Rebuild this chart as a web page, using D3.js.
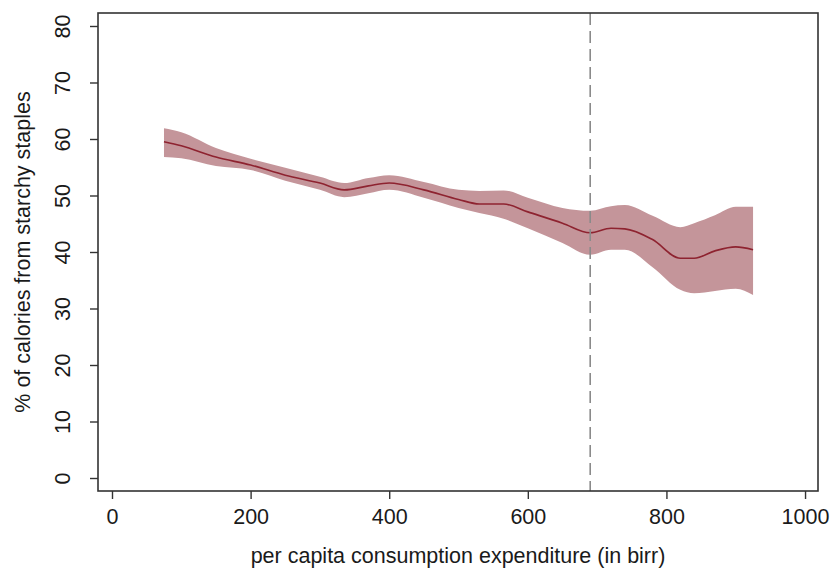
<!DOCTYPE html>
<html>
<head>
<meta charset="utf-8">
<script src="https://cdn.jsdelivr.net/npm/d3@7"></script>
<style>
  html, body { margin: 0; padding: 0; background: #fff; }
  svg { display: block; }
  text { font-family: "Liberation Sans", Arial, sans-serif; fill: #1a1a1a; }
</style>
</head>
<body>
<svg id="chart" width="831" height="577"></svg>
<script>
// Expenditure points (birr) at which the smoothed share is evaluated
const expenditure = [75, 100, 150, 200, 250, 300, 335, 370, 400, 450, 500, 530, 565, 600, 650, 690, 720, 740, 780, 820, 840, 870, 900, 925];
// Fitted % of calories from starchy staples
const fitted = [59.5, 58.8, 56.8, 55.4, 53.6, 52.2, 51.0, 51.7, 52.2, 51.0, 49.3, 48.5, 48.5, 47.1, 45.1, 43.4, 44.2, 44.1, 42.2, 38.9, 38.9, 40.2, 40.9, 40.4];
// Confidence band
const upper = [61.9, 61.2, 58.4, 56.5, 54.9, 53.3, 52.2, 53.1, 53.6, 52.4, 51.0, 50.8, 50.9, 49.6, 47.8, 47.3, 48.1, 48.3, 46.4, 44.4, 45.1, 46.5, 48.0, 48.0];
const lower = [56.8, 56.6, 55.2, 54.5, 52.6, 51.0, 49.7, 50.4, 51.0, 49.6, 47.8, 46.9, 45.9, 44.2, 41.6, 39.5, 40.4, 40.4, 37.3, 33.3, 32.7, 33.1, 33.5, 32.4];
// Axis ticks and reference line
const xTicks = [0, 200, 400, 600, 800, 1000];
const yTicks = [0, 10, 20, 30, 40, 50, 60, 70, 80];
const cutoff = 690;

const svg = d3.select("#chart");
const plot = { left: 98, right: 818, top: 13, bottom: 491 };

const x = d3.scaleLinear().domain([-20.2, 1018.7]).range([plot.left, plot.right]);
const y = d3.scaleLinear().domain([-2.3, 82.3]).range([plot.bottom, plot.top]);

const rows = expenditure.map((e, i) => ({ e, f: fitted[i], hi: upper[i], lo: lower[i] }));

// Confidence band
svg.append("path")
  .datum(rows)
  .attr("fill", "#c4959a")
  .attr("d", d3.area()
    .x(d => x(d.e))
    .y0(d => y(d.lo))
    .y1(d => y(d.hi))
    .curve(d3.curveMonotoneX));

// Fitted line
svg.append("path")
  .datum(rows)
  .attr("fill", "none")
  .attr("stroke", "#8e2330")
  .attr("stroke-width", 1.6)
  .attr("d", d3.line()
    .x(d => x(d.e))
    .y(d => y(d.f))
    .curve(d3.curveMonotoneX));

// Vertical dashed reference line
svg.append("line")
  .attr("x1", x(cutoff)).attr("x2", x(cutoff))
  .attr("y1", plot.top).attr("y2", plot.bottom)
  .attr("stroke", "#8a8a8a")
  .attr("stroke-width", 1.6)
  .attr("stroke-dasharray", "12,6");

// Plot frame
svg.append("rect")
  .attr("x", plot.left).attr("y", plot.top)
  .attr("width", plot.right - plot.left)
  .attr("height", plot.bottom - plot.top)
  .attr("fill", "none")
  .attr("stroke", "#333")
  .attr("stroke-width", 1.6);

// Bottom axis
const xAxis = svg.append("g")
  .attr("transform", `translate(0,${plot.bottom})`)
  .call(d3.axisBottom(x).tickValues(xTicks).tickSize(8).tickPadding(10).tickFormat(d3.format("d")));
xAxis.select(".domain").remove();
xAxis.selectAll(".tick line").attr("stroke", "#333").attr("stroke-width", 1.4);
xAxis.selectAll(".tick text")
  .attr("font-size", "21.5px")
  .attr("font-family", "Liberation Sans, Arial, sans-serif")
  .attr("fill", "#1a1a1a");

// Left axis with rotated labels
const yAxis = svg.append("g")
  .attr("transform", `translate(${plot.left},0)`)
  .call(d3.axisLeft(y).tickValues(yTicks).tickSize(8).tickFormat(d3.format("d")));
yAxis.select(".domain").remove();
yAxis.selectAll(".tick line").attr("stroke", "#333").attr("stroke-width", 1.4);
yAxis.selectAll(".tick text")
  .attr("font-size", "21.5px")
  .attr("font-family", "Liberation Sans, Arial, sans-serif")
  .attr("fill", "#1a1a1a")
  .attr("x", null).attr("dy", null)
  .attr("text-anchor", "middle")
  .attr("transform", "translate(-28,0) rotate(-90)");

// Axis titles
svg.append("text")
  .attr("x", (plot.left + plot.right) / 2)
  .attr("y", 563)
  .attr("text-anchor", "middle")
  .attr("font-size", "21.5px")
  .text("per capita consumption expenditure (in birr)");

svg.append("text")
  .attr("transform", `translate(30,${(plot.top + plot.bottom) / 2}) rotate(-90)`)
  .attr("text-anchor", "middle")
  .attr("font-size", "21.5px")
  .text("% of calories from starchy staples");
</script>
</body>
</html>
